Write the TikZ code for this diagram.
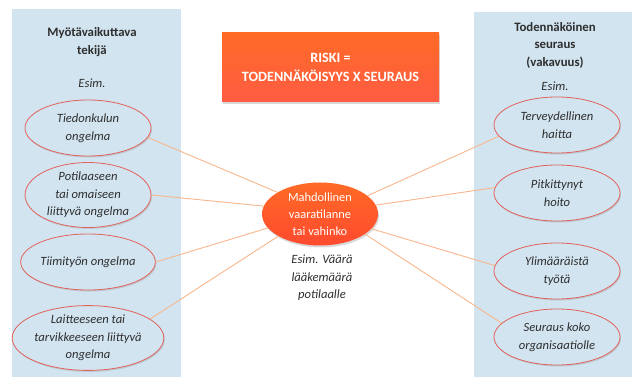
\documentclass[tikz,border=0pt]{standalone}
\usepackage{fontspec}
\setmainfont{Carlito}
\usetikzlibrary{shapes.geometric, shadows}

\definecolor{panelblue}{HTML}{D2E4F0}
\definecolor{ringred}{HTML}{E2625A}
\definecolor{linkorange}{HTML}{F8B68C}
\definecolor{textgray}{HTML}{2E2E2E}
\definecolor{hotorange}{HTML}{FF6A26}
\definecolor{hotred}{HTML}{FF4A2E}

\tikzset{
  panel/.style={fill=panelblue, draw=none},
  example/.style={ellipse, draw=ringred, thick, fill=panelblue,
                  minimum width=126pt, minimum height=56pt, inner sep=0pt,
                  align=center, font=\itshape\fontsize{12.6}{17.5}\selectfont, text=textgray,
                  drop shadow={opacity=0.25, shadow xshift=1pt, shadow yshift=-1.5pt}},
  heading/.style={align=center, font=\bfseries\fontsize{12.8}{17.5}\selectfont, text=textgray},
  note/.style={align=center, font=\itshape\fontsize{12.6}{17.5}\selectfont, text=textgray},
  link/.style={draw=linkorange, line width=0.9pt}
}

\begin{document}
\begin{tikzpicture}[x=1pt, y=-1pt]
  \useasboundingbox (0,0) rectangle (635,377);
  % side panels
  \fill[panel] (12,9) rectangle (181,377);
  \fill[panel] (474,12) rectangle (632,377);
  \node[heading] (lhead) at (92,42) {Myötävaikuttava\\tekijä};
  \node[note] (lesim) at (92,83) {Esim.};
  \node[heading] (rhead) at (555,45) {Todennäköinen\\seuraus\\(vakavuus)};
  \node[note] (resim) at (555,86) {Esim.};

  % risk formula
  \node[rectangle, minimum width=217pt, minimum height=69pt, align=center,
        top color=hotorange, bottom color=hotred!90!white, text=white,
        font=\bfseries\fontsize{14.2}{18.5}\selectfont,
        drop shadow={opacity=0.3, shadow xshift=1pt, shadow yshift=-2pt}]
        (riski) at (330.5,67.5) {RISKI =\\TODENNÄKÖISYYS X SEURAUS};

  % central event
  \node[ellipse, minimum width=116pt, minimum height=63pt, inner sep=0pt,
        top color=hotorange, bottom color=hotred, text=white, align=center,
        font=\fontsize{12.4}{17}\selectfont,
        drop shadow={opacity=0.3, shadow xshift=1pt, shadow yshift=-2pt}]
        (event) at (320,214) {Mahdollinen\\vaaratilanne\\tai vahinko};
  \node[note] (eventesim) at (322,278) {Esim. Väärä\\lääkemäärä\\potilaalle};

  % contributing factors
  \node[example] (f1) at (88,128) {Tiedonkulun\\ongelma};
  \node[example] (f2) at (88,195) {Potilaaseen\\tai omaiseen\\liittyvä ongelma};
  \node[example] (f3) at (88,262) {Tiimityön ongelma};
  \node[example] (f4) at (88,338) {Laitteeseen tai\\tarvikkeeseen liittyvä\\ongelma};

  % consequences
  \node[example] (s1) at (557,125) {Terveydellinen\\haitta};
  \node[example] (s2) at (557,193) {Pitkittynyt\\hoito};
  \node[example] (s3) at (557,271) {Ylimääräistä\\työtä};
  \node[example] (s4) at (557,337) {Seuraus koko\\organisaatiolle};

  % connectors
  \foreach \f/\a/\b in {f1/-9/153, f2/0/172, f3/0/195, f4/17/208}{
    \draw[link] (\f.\a) -- (event.\b);
  }
  \foreach \s/\a/\b in {s1/21/191, s2/9/175, s3/-16/175, s4/-24/166}{
    \draw[link] (event.\a) -- (\s.\b);
  }
\end{tikzpicture}
\end{document}
